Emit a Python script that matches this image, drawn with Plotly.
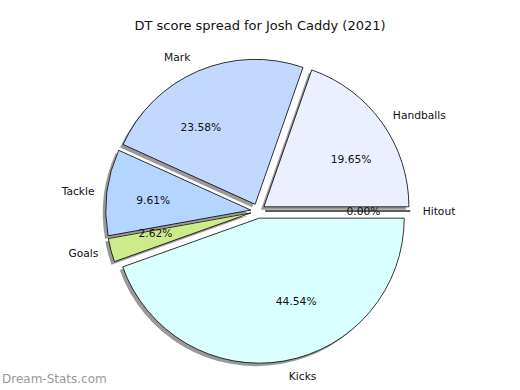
import plotly.graph_objects as go

# data (Hitout first so the zero slice sits at 3 o'clock, like the reference)
labels = ["Hitout", "Handballs", "Mark", "Tackle", "Goals", "Kicks"]
values = [0.00, 19.65, 23.58, 9.61, 2.62, 44.54]
colors = ["#ffffff", "#eaf0ff", "#c3d8ff", "#b3d5ff", "#cdeb8b", "#d9ffff"]
title = "DT score spread for Josh Caddy (2021)"
watermark = "Dream-Stats.com"

W, H = 520, 390
font = dict(family="DejaVu Sans", size=10.7, color="#111111")

explode = 0.05
cx, cy = 258 / W, 1 - 211 / H      # pie centre (paper fractions)
r_main = 145                        # px, unpulled radius
r_pct = 78                          # px, radius of the invisible ring that carries the % texts


def dom(r, pull, dx=0.0, dy=0.0):
    half_h = r * (1 + pull) / H
    return dict(x=[max(0, cx + dx - 0.49), min(1, cx + dx + 0.49)],
                y=[cy + dy - half_h, cy + dy + half_h])


pull_main = [explode] * len(values)
pull_pct = [explode * r_main / r_pct] * len(values)

common = dict(labels=labels, values=values, sort=False,
              direction="counterclockwise", rotation=90, showlegend=False)

fig = go.Figure()
# shadow
fig.add_trace(go.Pie(
    **common, pull=pull_main, textinfo="none", hoverinfo="skip",
    marker=dict(colors=["rgba(120,120,120,0.75)"] * len(values), line=dict(width=0)),
    domain=dom(r_main, explode, dx=-3 / W, dy=-3 / H),
))
# main wedges
fig.add_trace(go.Pie(
    **common, pull=pull_main, textinfo="none", hoverinfo="label+percent",
    marker=dict(colors=colors, line=dict(color="#000000", width=0.8)),
    domain=dom(r_main, explode),
))
# percentage texts
fig.add_trace(go.Pie(
    **common, pull=pull_pct, textposition="outside",
    texttemplate="%{percent:.2%}", textfont=font, hoverinfo="skip",
    marker=dict(colors=["rgba(0,0,0,0)"] * len(values), line=dict(width=0)),
    domain=dom(r_pct, pull_pct[0]), automargin=False,
))
# category labels
fig.add_trace(go.Pie(
    **common, pull=pull_main, textposition="outside", textinfo="label",
    textfont=font, hoverinfo="skip",
    marker=dict(colors=["rgba(0,0,0,0)"] * len(values), line=dict(width=0)),
    domain=dom(r_main * 1.06, explode), automargin=False,
))

fig.update_layout(
    width=W, height=H,
    margin=dict(l=0, r=0, t=0, b=0),
    paper_bgcolor="white", plot_bgcolor="white",
    title=dict(text=title, x=0.5, xanchor="center", yref="container",
               y=1 - 25 / H, yanchor="middle",
               font=dict(family="DejaVu Sans", size=13, color="#111111")),
    annotations=[dict(text=watermark, xref="paper", yref="paper", x=0, y=(H - 379) / H,
                      xanchor="left", yanchor="middle", showarrow=False,
                      font=dict(family="DejaVu Sans", size=12, color="#999999"))],
)

fig.write_html("out.html", config={"displayModeBar": False},
               post_script="document.body.style.margin='0';document.body.style.padding='0';")
